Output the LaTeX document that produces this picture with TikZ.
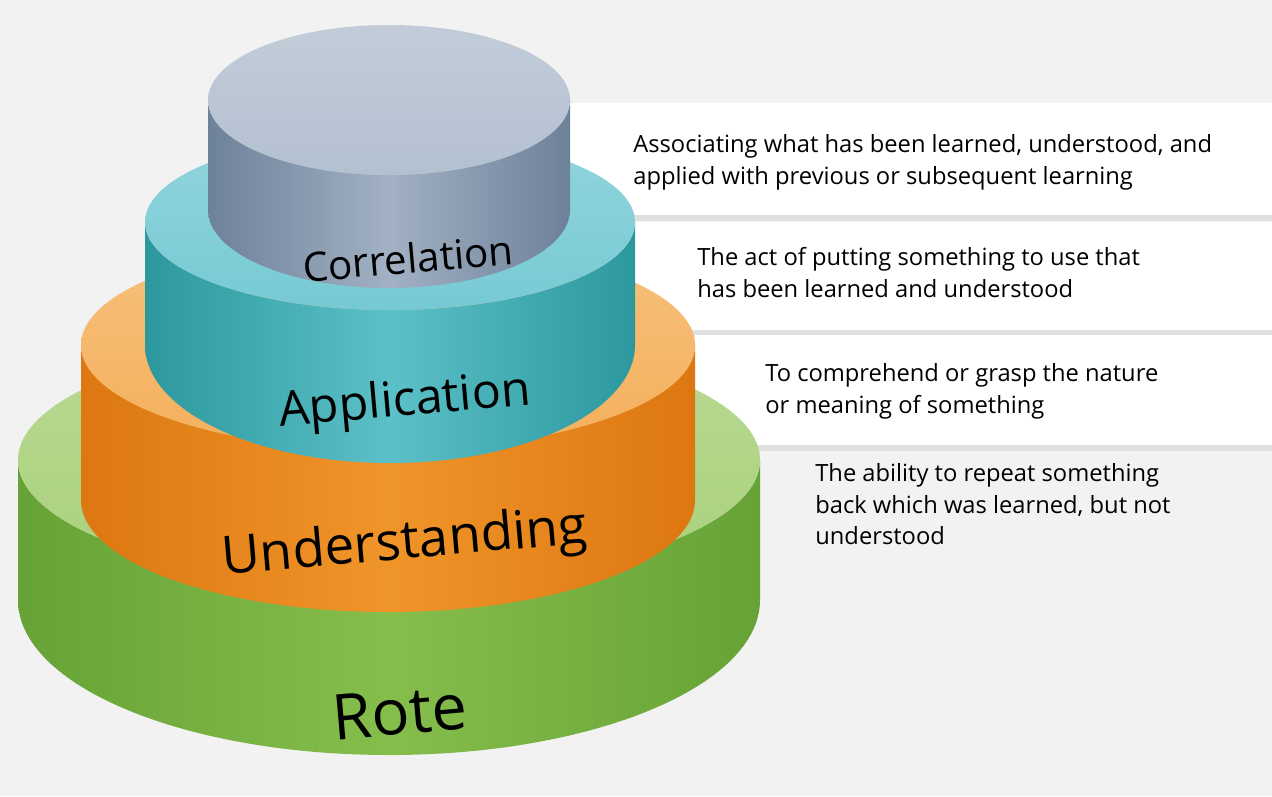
\documentclass[tikz,border=0pt]{standalone}
\usepackage{fontspec}
\setmainfont{Open Sans}
\definecolor{bgc}{HTML}{F2F2F2}
\definecolor{grayD}{HTML}{6D8199}\definecolor{grayL}{HTML}{A2B1C4}\definecolor{grayT}{HTML}{B3C0D0}
\definecolor{tealD}{HTML}{2C989E}\definecolor{tealL}{HTML}{5CC0C8}\definecolor{tealT}{HTML}{76CAD4}
\definecolor{oranD}{HTML}{DD7711}\definecolor{oranL}{HTML}{F0952A}\definecolor{oranT}{HTML}{F5B05C}
\definecolor{greeD}{HTML}{66A236}\definecolor{greeL}{HTML}{86BE4C}\definecolor{greeT}{HTML}{A9D07A}
% cx, rx, ytop, rytop, ybot, rybot, dark, light, top
\newcommand\cylayer[9]{%
  \shade[left color=#7,right color=#7,middle color=#8]
    (#1-#2,#3) -- (#1-#2,#5) arc[start angle=180,end angle=360,x radius=#2,y radius=#6]
    -- (#1+#2,#3) arc[start angle=0,end angle=-180,x radius=#2,y radius=#4] -- cycle;
  \shade[top color=#9!80!white,bottom color=#9] (#1,#3) ellipse[x radius=#2,y radius=#4];}
\tikzset{band/.style={fill=white}, shadowband/.style={fill=black!12},
  desc/.style={anchor=north west, align=left, font=\fontsize{13.5}{18}\selectfont, inner sep=0pt},
  lbl/.style={rotate=5, font=\fontsize{#1}{#1}\selectfont}}
\begin{document}
\begin{tikzpicture}[x=0.02cm,y=0.02cm]
\fill[bgc] (0,0) rectangle (1272,-796);
\useasboundingbox (0,0) rectangle (1272,-796);
% bands
\fill[shadowband] (570,-215) rectangle (1272,-221);
\fill[band] (570,-103) rectangle (1272,-215);
\fill[shadowband] (635,-330) rectangle (1272,-336);
\fill[band] (635,-222) rectangle (1272,-330);
\fill[shadowband] (695,-445) rectangle (1272,-451);
\fill[band] (695,-335) rectangle (1272,-445);
% layers
\cylayer{389}{371}{-460}{125}{-600}{155}{greeD}{greeL}{greeT}
\cylayer{388}{307}{-345}{105}{-500}{112}{oranD}{oranL}{oranT}
\cylayer{390}{245}{-222}{88}{-345}{118}{tealD}{tealL}{tealT}
\cylayer{389}{181}{-100}{75}{-210}{78}{grayD}{grayL}{grayT}
\node[lbl=23] (correlation) at (408,-258) {Correlation};
\node[lbl=27.5] (application) at (405,-403) {Application};
\node[lbl=30] (understanding) at (405,-545) {Understanding};
\node[lbl=36] (rote) at (400,-712) {Rote};
\node[desc] (d1) at (633,-134) {Associating what has been learned, understood, and\\applied with previous or subsequent learning};
\node[desc] (d2) at (697,-247) {The act of putting something to use that\\has been learned and understood};
\node[desc] (d3) at (765,-363) {To comprehend or grasp the nature\\or meaning of something};
\node[desc] (d4) at (815,-463) {The ability to repeat something\\back which was learned, but not\\understood};
\end{tikzpicture}
\end{document}
